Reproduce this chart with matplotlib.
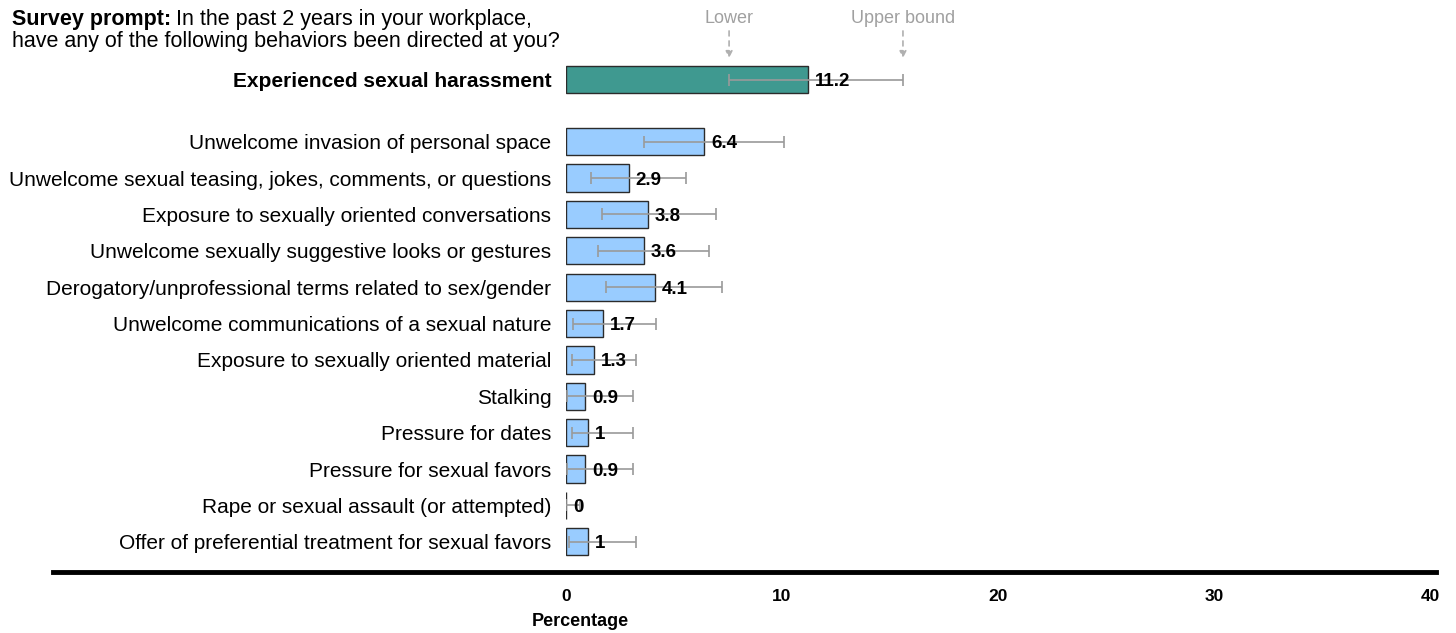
import matplotlib
matplotlib.use("Agg")
import matplotlib.pyplot as plt
from matplotlib.lines import Line2D

plt.rcParams['font.family'] = ['Liberation Sans', 'DejaVu Sans']

# Données
total_label = "Experienced sexual harassment"
total_value = 11.2
total_low = 7.55
total_high = 15.6

behaviors = [
    "Unwelcome invasion of personal space",
    "Unwelcome sexual teasing, jokes, comments, or questions",
    "Exposure to sexually oriented conversations",
    "Unwelcome sexually suggestive looks or gestures",
    "Derogatory/unprofessional terms related to sex/gender",
    "Unwelcome communications of a sexual nature",
    "Exposure to sexually oriented material",
    "Stalking",
    "Pressure for dates",
    "Pressure for sexual favors",
    "Rape or sexual assault (or attempted)",
    "Offer of preferential treatment for sexual favors",
]
values = [6.4, 2.9, 3.8, 3.6, 4.1, 1.7, 1.3, 0.9, 1, 0.9, 0, 1]
lows = [3.6, 1.14, 1.67, 1.47, 1.84, 0.34, 0.29, 0.06, 0.28, 0.05, 0, 0.14]
highs = [10.1, 5.57, 6.94, 6.62, 7.24, 4.18, 3.24, 3.1, 3.1, 3.1, 0.65, 3.24]
x_ticks = [0, 10, 20, 30, 40]

fig = plt.figure(figsize=(14.56, 6.33), dpi=100)
ax = fig.add_axes([566 / 1456, 1 - 560 / 633, (1430 - 566) / 1456, (560 - 58) / 633])

# positions verticales
y_total = 0
y_pos = [1.7 + i for i in range(len(behaviors))]

ax.barh(y_total, total_value, height=0.75, color='#3f9990', edgecolor='#2b2b2b', linewidth=1)
ax.barh(y_pos, values, height=0.75, color='#99ccff', edgecolor='#2b2b2b', linewidth=1)

# intervalles
err_kw = dict(fmt='none', ecolor='#9a9a9a', elinewidth=1.2, capsize=4.5, capthick=1.2)
ax.errorbar([total_value], [y_total],
            xerr=[[total_value - total_low], [total_high - total_value]], **err_kw)
ax.errorbar(values, y_pos,
            xerr=[[v - l for v, l in zip(values, lows)], [h - v for v, h in zip(values, highs)]],
            **err_kw)

# étiquettes de valeur
for y, v in [(y_total, total_value)] + list(zip(y_pos, values)):
    ax.annotate(f"{v:g}", xy=(v, y), xytext=(5, 0), textcoords='offset points',
                va='center_baseline', ha='left', fontsize=13.5, fontweight='bold')

ax.set_yticks([y_total] + y_pos)
ax.set_yticklabels([total_label] + behaviors, fontsize=15, va='center_baseline')
ax.get_yticklabels()[0].set_fontweight('bold')
ax.tick_params(axis='y', length=0, pad=10.5)

ax.set_xlim(0, 40)
ax.set_ylim(13.2, -0.6)
ax.set_xticks(x_ticks)
ax.set_xticklabels([str(t) for t in x_ticks], fontsize=12.5, fontweight='bold')
ax.tick_params(axis='x', length=0, pad=21)
ax.set_xlabel("Percentage", fontsize=13, fontweight='bold', x=0.016, ha='center', labelpad=6)
for s in ax.spines.values():
    s.set_visible(False)

# ligne noire épaisse
fig.add_artist(Line2D([53 / 1456, 1436 / 1456], [1 - 572 / 633, 1 - 572 / 633],
                      color='black', linewidth=3.5, transform=fig.transFigure))

# annotations Lower / Upper bound
for xv, txt in [(total_low, "Lower"), (total_high, "Upper bound")]:
    ax.annotate("", xy=(xv, -0.52), xytext=(xv, -1.42), annotation_clip=False,
                arrowprops=dict(arrowstyle='-|>', linestyle=(0, (3, 3)), color='#b0b0b0',
                                lw=1.2, mutation_scale=10))
    ax.text(xv, -1.68, txt, ha='center', va='center', color='#a0a0a0', fontsize=13,
            clip_on=False)

# consigne de l'enquête
bold_part = fig.text(12 / 1456, 1 - 19 / 633, "Survey prompt:", fontsize=15.5,
                     fontweight='bold', va='center', ha='left')
fig.canvas.draw()
bb = bold_part.get_window_extent()
fig.text((bb.x1 + 5) / 1456, 1 - 19 / 633, "In the past 2 years in your workplace,",
         fontsize=15.5, va='center', ha='left')
fig.text(12 / 1456, 1 - 41 / 633, "have any of the following behaviors been directed at you?",
         fontsize=15.5, va='center', ha='left')

fig.savefig("out.png", dpi=100)
